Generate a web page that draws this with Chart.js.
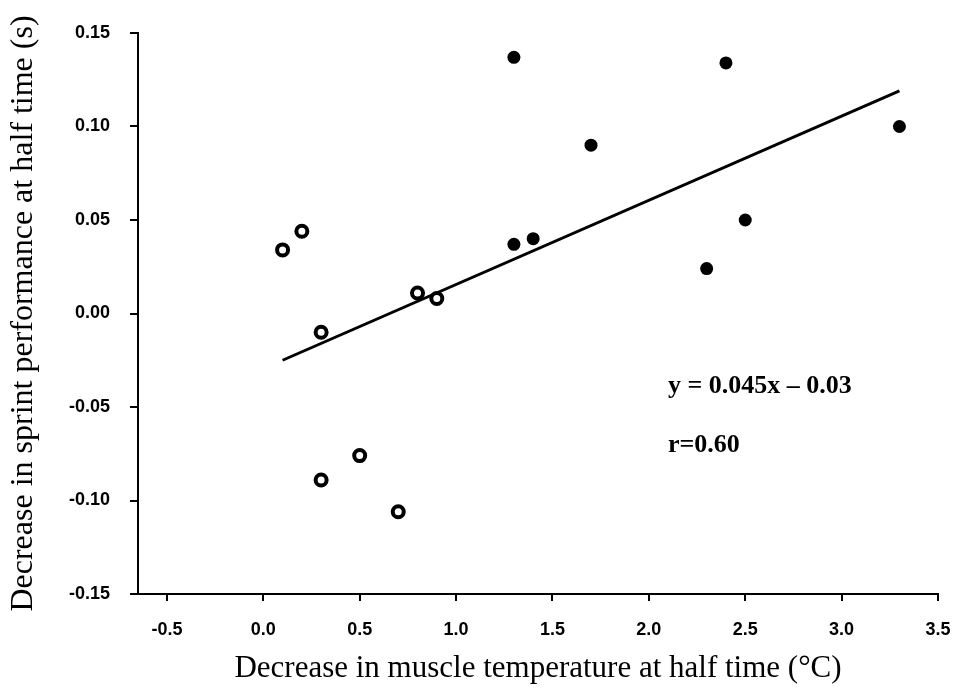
<!DOCTYPE html>
<html>
<head>
<meta charset="utf-8">
<script src="https://cdn.jsdelivr.net/npm/chart.js@4.4.1/dist/chart.umd.min.js"></script>
<style>
  html, body { margin: 0; padding: 0; background: #fff; }
  #wrap { width: 956px; height: 692px; }
</style>
</head>
<body>
<div id="wrap"><canvas id="scatter"></canvas></div>
<script>
// open circles (first half) and filled circles (second half)
const openX = [0.1, 0.2, 0.3, 0.8, 0.9, 0.5, 0.3, 0.7];
const openY = [0.034, 0.044, -0.010, 0.011, 0.008, -0.076, -0.089, -0.106];
const filledX = [1.3, 2.4, 1.7, 3.3, 1.3, 1.4, 2.5, 2.3];
const filledY = [0.137, 0.134, 0.090, 0.100, 0.037, 0.040, 0.050, 0.024];
// regression line end points
const fitX = [0.1, 3.3];
const fitY = [-0.025, 0.119];
const xTicks = [-0.5, 0, 0.5, 1, 1.5, 2, 2.5, 3, 3.5];
const yTicks = [-0.15, -0.10, -0.05, 0, 0.05, 0.10, 0.15];
const notes = ['y = 0.045x \u2013 0.03', 'r=0.60'];

const pts = (xs, ys) => xs.map((x, i) => ({x: x, y: ys[i]}));

const notesPlugin = {
  id: 'notes',
  afterDraw(chart) {
    const c = chart.ctx;
    c.save();
    c.fillStyle = '#000';
    c.font = 'bold 26px "Liberation Serif", serif';
    c.textBaseline = 'middle';
    c.fillText(notes[0], 668, 386);
    c.fillText(notes[1], 668, 445);
    c.restore();
  }
};

const ctx = document.getElementById('scatter').getContext('2d');
const chart = new Chart(ctx, {
  type: 'scatter',
  plugins: [notesPlugin],
  data: {
    datasets: [
      {
        label: 'open',
        data: pts(openX, openY),
        pointRadius: 5.5,
        pointBorderWidth: 4,
        pointBackgroundColor: '#fff',
        pointBorderColor: '#000'
      },
      {
        label: 'filled',
        data: pts(filledX, filledY),
        pointRadius: 6.5,
        pointBorderWidth: 0,
        pointBackgroundColor: '#000',
        pointBorderColor: '#000'
      },
      {
        type: 'line',
        label: 'fit',
        data: pts(fitX, fitY),
        borderColor: '#000',
        borderWidth: 3,
        pointRadius: 0,
        fill: false
      }
    ]
  },
  options: {
    responsive: true,
    maintainAspectRatio: false,
    animation: false,
    layout: { padding: { top: 33, right: 18, left: 0, bottom: 0 } },
    plugins: {
      legend: { display: false },
      tooltip: { enabled: false }
    },
    scales: {
      x: {
        type: 'linear',
        min: -0.65,
        max: 3.5,
        afterBuildTicks: s => { s.ticks = xTicks.map(v => ({value: v})); },
        afterFit: s => { s.height = 98; s.paddingLeft = 0; s.paddingRight = 0; },
        grid: { drawOnChartArea: false, drawTicks: true, tickLength: 7, color: '#000', lineWidth: 2 },
        border: { display: true, color: '#000', width: 2 },
        ticks: {
          color: '#000',
          padding: 18,
          maxRotation: 0,
          font: { family: '"Liberation Sans", Arial, sans-serif', size: 18, weight: 'bold' },
          callback: v => v.toFixed(1)
        },
        title: {
          display: true,
          text: 'Decrease in muscle temperature at half time (\u00B0C)',
          color: '#000',
          padding: { top: 0, bottom: 5 },
          font: { family: '"Liberation Serif", "Times New Roman", serif', size: 31 }
        }
      },
      y: {
        type: 'linear',
        min: -0.15,
        max: 0.15,
        afterBuildTicks: s => { s.ticks = yTicks.map(v => ({value: v})); },
        afterFit: s => { s.width = 138; s.paddingTop = 0; s.paddingBottom = 0; },
        grid: { drawOnChartArea: false, drawTicks: true, tickLength: 8, color: '#000', lineWidth: 2 },
        border: { display: true, color: '#000', width: 2 },
        ticks: {
          color: '#000',
          padding: 20,
          font: { family: '"Liberation Sans", Arial, sans-serif', size: 18, weight: 'bold' },
          callback: v => v.toFixed(2)
        },
        title: {
          display: true,
          text: 'Decrease in sprint performance at half time (s)',
          color: '#000',
          padding: { top: 4, bottom: 0 },
          font: { family: '"Liberation Serif", "Times New Roman", serif', size: 32 }
        }
      }
    }
  }
});
</script>
</body>
</html>
